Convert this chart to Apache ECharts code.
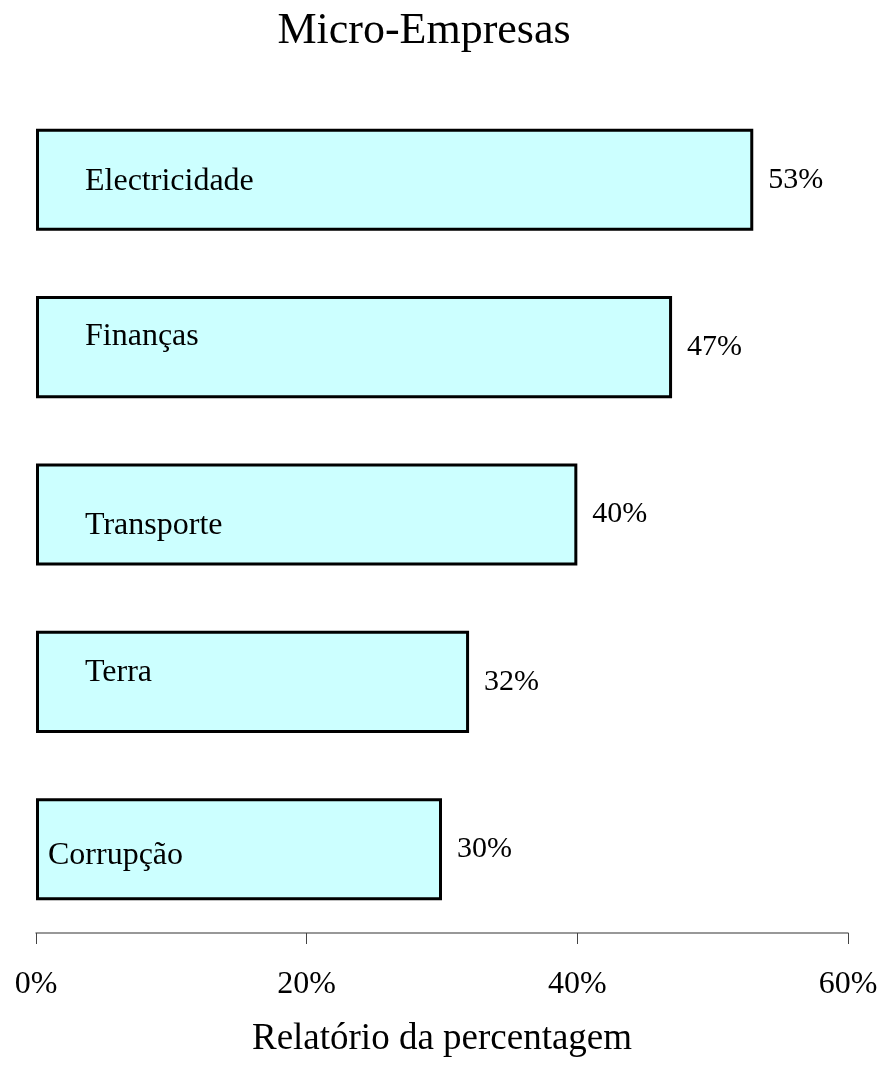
<!DOCTYPE html>
<html>
<head>
<meta charset="utf-8">
<script src="https://cdn.jsdelivr.net/npm/echarts@6/dist/echarts.min.js"></script>
<style>
  html, body { margin: 0; padding: 0; background: #fff; }
  #chart { width: 884px; height: 1066px; }
</style>
</head>
<body>
<div id="chart"></div>
<script>
// dados
const categorias = ['Electricidade', 'Finanças', 'Transporte', 'Terra', 'Corrupção'];
const valores = [53, 47, 40, 32, 30];
const ticks = [0, 20, 40, 60];

// deslocamento dos nomes dentro das barras (layout)
const nomeDistancia = [49, 49, 49, 49, 12];
const nomeDesvioY = [2, -11, 11, -9, 6];

const serif = '"Liberation Serif", "Times New Roman", serif';

const chart = echarts.init(document.getElementById('chart'));

const option = {
  animation: false,
  title: {
    text: 'Micro-Empresas',
    left: 419,
    textAlign: 'center',
    top: 4,
    textStyle: { fontFamily: serif, fontSize: 44, fontWeight: 'normal', color: '#000' }
  },
  grid: { left: 36, right: 36, top: 96, bottom: 133 },
  xAxis: {
    type: 'value',
    min: 0,
    max: 60,
    interval: 20,
    name: 'Relatório da percentagem',
    nameLocation: 'middle',
    nameGap: 88,
    nameTextStyle: { fontFamily: serif, fontSize: 37, color: '#000' },
    axisLine: { show: true, lineStyle: { color: '#777', width: 1.5 } },
    axisTick: { show: true, length: 11, lineStyle: { color: '#444' } },
    splitLine: { show: false },
    axisLabel: {
      margin: 36,
      fontFamily: serif,
      fontSize: 32,
      color: '#000',
      formatter: v => ticks.includes(v) ? v + '%' : ''
    }
  },
  yAxis: {
    type: 'category',
    data: categorias,
    inverse: true,
    show: false
  },
  series: [
    {
      type: 'bar',
      data: valores.map((v, i) => ({
        value: v,
        name: categorias[i],
        label: {
          show: true,
          position: 'insideLeft',
          distance: nomeDistancia[i],
          offset: [0, nomeDesvioY[i]],
          formatter: '{b}',
          fontFamily: serif,
          fontSize: 32,
          color: '#000'
        }
      })),
      barCategoryGap: '39%',
      itemStyle: { color: '#ccffff', borderColor: '#000', borderWidth: 3 },
      z: 2
    },
    {
      type: 'bar',
      data: valores,
      barGap: '-100%',
      barCategoryGap: '39%',
      itemStyle: { color: 'transparent' },
      label: {
        show: true,
        position: 'right',
        distance: 15,
        formatter: '{c}%',
        fontFamily: serif,
        fontSize: 30,
        color: '#000'
      },
      silent: true,
      z: 3
    }
  ]
};

chart.setOption(option);
</script>
</body>
</html>
